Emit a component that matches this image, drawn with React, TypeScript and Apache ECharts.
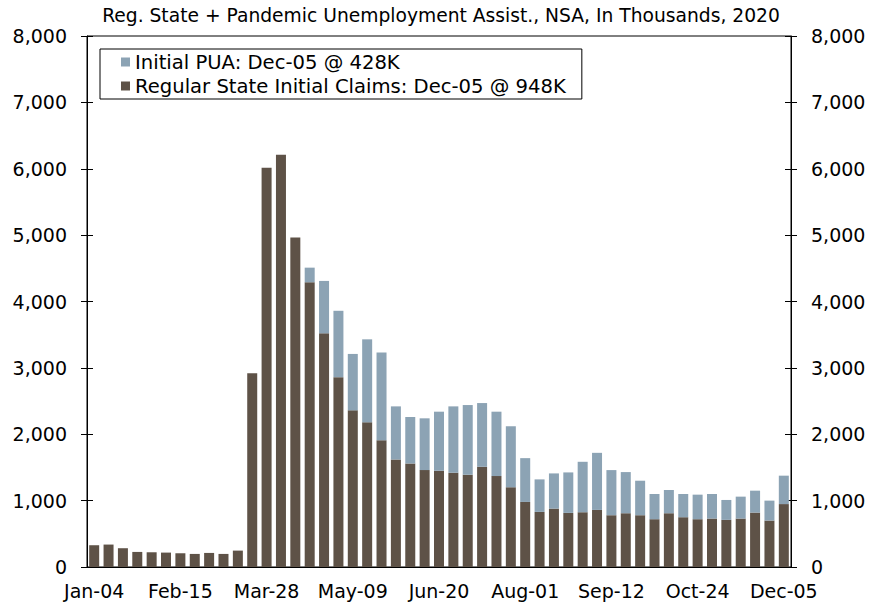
import React, { useEffect, useRef } from "react";
import * as echarts from "echarts";

const categories = [
  "Jan-04", "Jan-11", "Jan-18", "Jan-25", "Feb-01", "Feb-08", "Feb-15", "Feb-22", "Feb-29",
  "Mar-07", "Mar-14", "Mar-21", "Mar-28", "Apr-04", "Apr-11", "Apr-18", "Apr-25", "May-02",
  "May-09", "May-16", "May-23", "May-30", "Jun-06", "Jun-13", "Jun-20", "Jun-27", "Jul-04",
  "Jul-11", "Jul-18", "Jul-25", "Aug-01", "Aug-08", "Aug-15", "Aug-22", "Aug-29", "Sep-05",
  "Sep-12", "Sep-19", "Sep-26", "Oct-03", "Oct-10", "Oct-17", "Oct-24", "Oct-31", "Nov-07",
  "Nov-14", "Nov-21", "Nov-28", "Dec-05",
];

const regularState = [
  328, 338, 283, 227, 222, 217, 207, 197, 212, 197, 247, 2920, 6015, 6211, 4965, 4290, 3520,
  2860, 2360, 2180, 1910, 1620, 1560, 1460, 1450, 1420, 1390, 1510, 1370, 1200, 980, 830, 880,
  815, 825, 860, 780, 810, 780, 720, 810, 750, 720, 730, 710, 730, 820, 700, 948,
];

const initialPUA = [
  null, null, null, null, null, null, null, null, null, null, null, null, null, null, null,
  220, 790, 1000, 850, 1250, 1320, 800, 700, 780, 890, 1000, 1050, 960, 970, 920, 660, 490,
  530, 610, 760, 860, 680, 620, 520, 380, 350, 350, 370, 370, 300, 330, 330, 300, 428,
];

const yTicks = { min: 0, max: 8000, interval: 1000 };

const titleText = "Reg. State + Pandemic Unemployment Assist., NSA, In Thousands, 2020";
const puaName = "Initial PUA: Dec-05 @ 428K";
const regName = "Regular State Initial Claims: Dec-05 @ 948K";

const FONT = "DejaVu Sans";

export default function App() {
  const ref = useRef<HTMLDivElement>(null);
  useEffect(() => {
    if (!ref.current) return;
    const chart = echarts.init(ref.current, undefined, { renderer: "svg" });
    const fmt = (v: number) => v.toLocaleString("en-US");
    const yBase = {
      type: "value" as const,
      min: yTicks.min,
      max: yTicks.max,
      interval: yTicks.interval,
      splitLine: { show: false },
    };
    chart.setOption({
      animation: false,
      backgroundColor: "#fff",
      title: {
        text: titleText,
        left: "center",
        top: 1,
        textStyle: { fontFamily: FONT, fontSize: 18.7, fontWeight: "normal", color: "#000" },
      },
      legend: {
        data: [puaName, regName],
        orient: "vertical",
        left: 100,
        top: 49,
        borderColor: "#000",
        borderWidth: 1,
        padding: [3, 16, 3, 21],
        itemWidth: 9,
        itemHeight: 9,
        itemGap: 4,
        icon: "rect",
        textStyle: { fontFamily: FONT, fontSize: 19.6, color: "#000" },
      },
      grid: {
        left: 87,
        right: 91,
        top: 36,
        bottom: 38,
        show: true,
        borderColor: "#000",
        borderWidth: 1,
        containLabel: false,
      },
      xAxis: [
        {
          type: "category",
          data: categories,
          position: "bottom",
          axisLine: { lineStyle: { color: "#000", width: 1 } },
          axisTick: { interval: 5, length: 6, lineStyle: { color: "#000" } },
          axisLabel: {
            interval: 5,
            margin: 14,
            fontFamily: FONT,
            fontSize: 19,
            color: "#000",
          },
        },
        {
          type: "category",
          data: categories,
          position: "bottom",
          axisLine: { show: false },
          axisTick: { inside: true, interval: 5, length: 6, lineStyle: { color: "#000" } },
          axisLabel: { show: false },
        },
      ],
      yAxis: [
        {
          ...yBase,
          position: "left",
          axisLine: { show: true, lineStyle: { color: "#000" } },
          axisTick: { show: true, length: 6, lineStyle: { color: "#000" } },
          axisLabel: { formatter: fmt, margin: 20, fontFamily: FONT, fontSize: 19, color: "#000" },
        },
        {
          ...yBase,
          position: "left",
          axisLine: { show: false },
          axisTick: { show: true, inside: true, length: 6, lineStyle: { color: "#000" } },
          axisLabel: { show: false },
        },
        {
          ...yBase,
          position: "right",
          axisLine: { show: true, lineStyle: { color: "#000" } },
          axisTick: { show: true, length: 6, lineStyle: { color: "#000" } },
          axisLabel: { formatter: fmt, margin: 20, fontFamily: FONT, fontSize: 19, color: "#000" },
        },
        {
          ...yBase,
          position: "right",
          axisLine: { show: false },
          axisTick: { show: true, inside: true, length: 6, lineStyle: { color: "#000" } },
          axisLabel: { show: false },
        },
      ],
      series: [
        {
          name: regName,
          type: "bar",
          stack: "claims",
          data: regularState,
          barWidth: 10,
          itemStyle: { color: "#5E5247" },
        },
        {
          name: puaName,
          type: "bar",
          stack: "claims",
          data: initialPUA,
          barWidth: 10,
          itemStyle: { color: "#8CA3B4" },
        },
      ],
    });
    return () => chart.dispose();
  }, []);
  return (
    <div
      ref={ref}
      style={{ position: "fixed", left: 0, top: 0, width: 882, height: 605, background: "#fff" }}
    />
  );
}
